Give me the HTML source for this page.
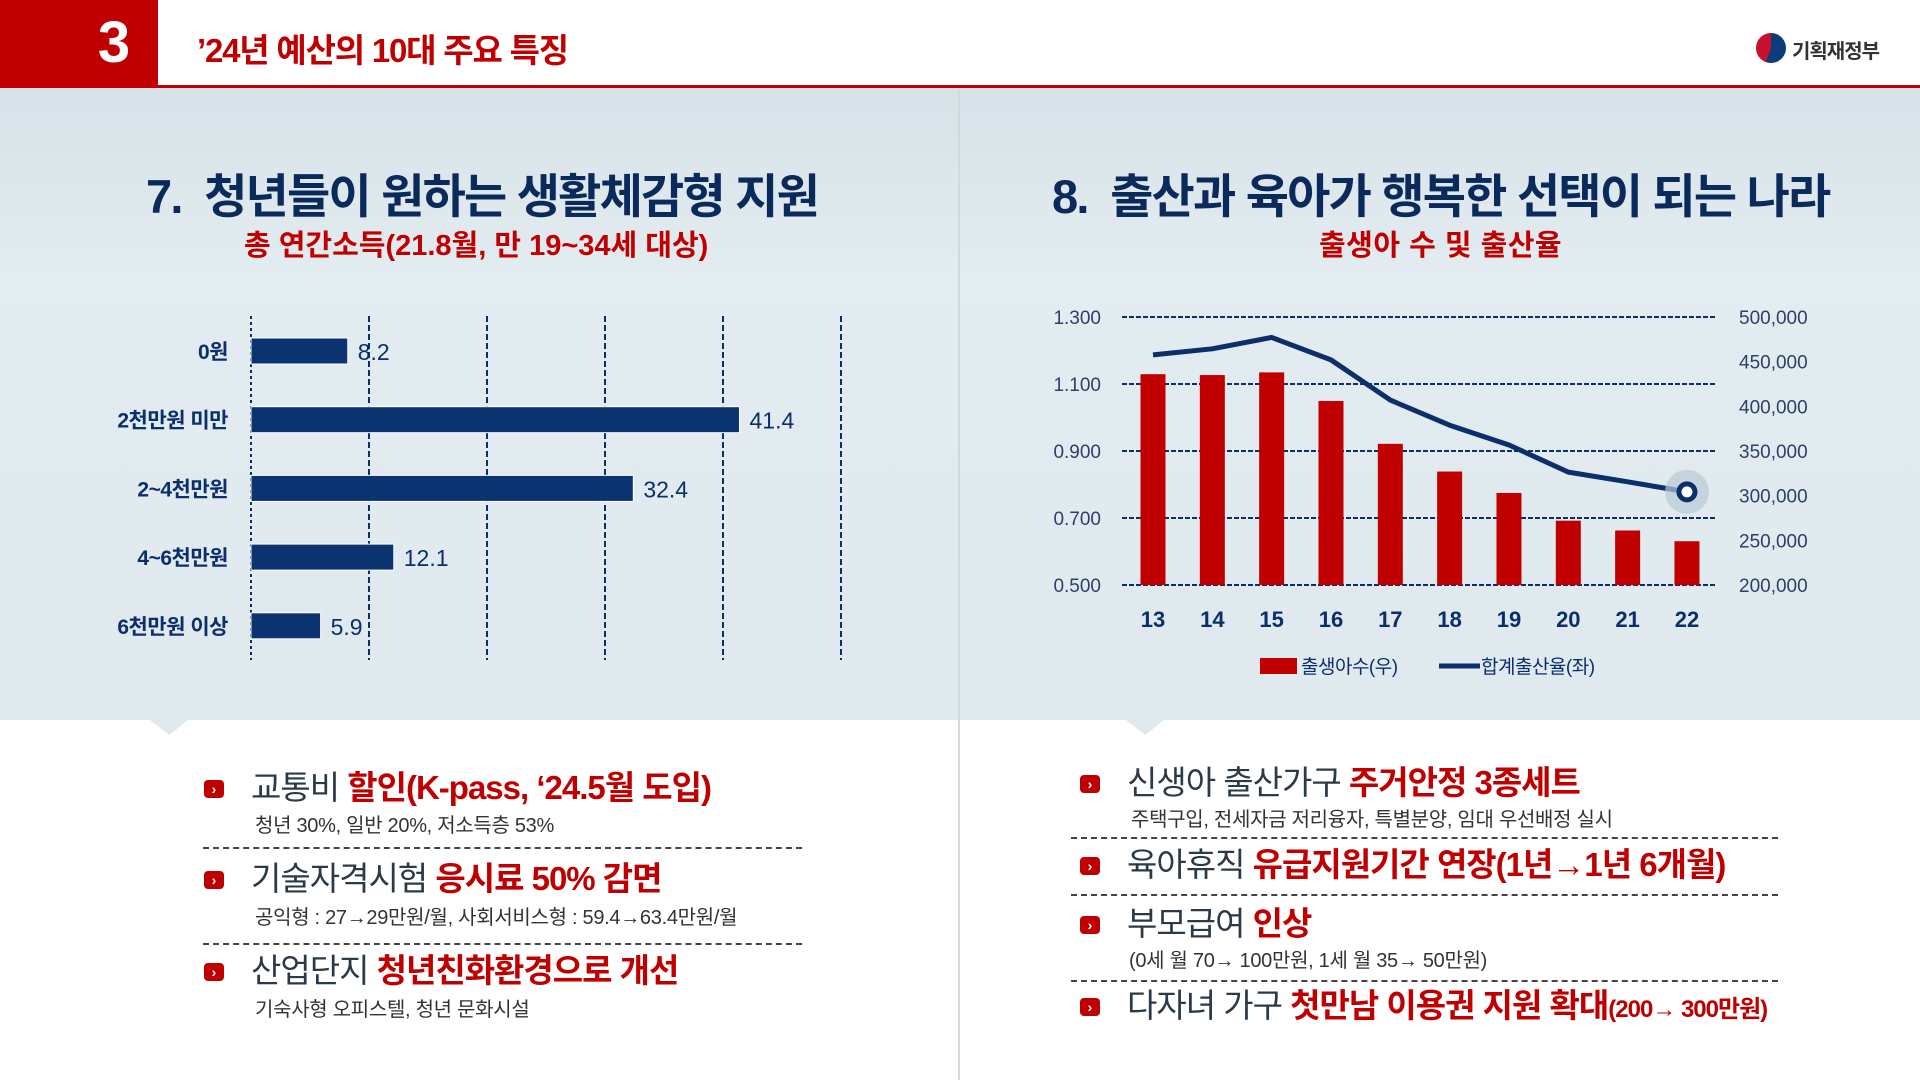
<!DOCTYPE html>
<html><head><meta charset="utf-8">
<style>
html,body{margin:0;padding:0;}
body{width:1920px;height:1080px;position:relative;overflow:hidden;background:#fff;font-family:"Liberation Sans","Noto Sans CJK KR",sans-serif;}
.abs{position:absolute;white-space:nowrap;}
.main{font-size:33px;color:#2b3a48;letter-spacing:-1px;line-height:1;}
.main b{color:#c00000;}
.sub{font-size:20px;color:#333;letter-spacing:-0.3px;line-height:1;}
.bul{width:20px;height:18px;background:#c00000;border-radius:4px;color:#fff;font-size:14px;font-weight:bold;text-align:center;line-height:18px;}
.dl{height:0;border-top:2px dashed #444;}
</style></head><body>
<div class="abs" style="left:0;top:87px;width:1920px;height:633px;background:linear-gradient(180deg,#d6e2e8 0%,#e3ecf0 30%,#dfe9ee 100%);"></div>
<div class="abs" style="left:958px;top:87px;width:2px;height:993px;background:#cfd9de;"></div>
<div class="abs" style="left:150px;top:720px;width:0;height:0;border-left:19px solid transparent;border-right:19px solid transparent;border-top:15px solid #dfe9ee;"></div>
<div class="abs" style="left:1126px;top:720px;width:0;height:0;border-left:19px solid transparent;border-right:19px solid transparent;border-top:15px solid #dfe9ee;"></div>

<div class="abs" style="left:0;top:0;width:158px;height:86px;background:#c00000;"></div>
<div class="abs" style="left:84px;top:0;width:60px;height:86px;color:#fff;font-size:58px;font-weight:bold;text-align:center;line-height:86px;">3</div>
<div class="abs" style="left:197px;top:24px;font-size:33px;font-weight:bold;color:#c00000;letter-spacing:-1.2px;">’24년 예산의 10대 주요 특징</div>
<div class="abs" style="left:0;top:85px;width:1920px;height:3px;background:#c00000;"></div>
<div class="abs" style="left:1756px;top:33px;width:30px;height:30px;border-radius:50%;background:conic-gradient(#0b3c7c 0deg 200deg,#c8102e 200deg 360deg);"></div>
<div class="abs" style="left:1792px;top:35px;font-size:20px;font-weight:bold;color:#333;letter-spacing:-1px;">기획재정부</div>

<div class="abs" style="left:146px;top:158px;font-size:47px;font-weight:bold;color:#0b2a5c;letter-spacing:-1.8px;">7.&nbsp;&nbsp;청년들이 원하는 생활체감형 지원</div>
<div class="abs" style="left:244px;top:222px;font-size:29px;font-weight:bold;color:#c00000;letter-spacing:0px;">총 연간소득(21.8월, 만 19~34세 대상)</div>
<div class="abs" style="left:1052px;top:158px;font-size:47px;font-weight:bold;color:#0b2a5c;letter-spacing:-1.8px;">8.&nbsp;&nbsp;출산과 육아가 행복한 선택이 되는 나라</div>
<div class="abs" style="left:1319px;top:222px;font-size:29px;font-weight:bold;color:#c00000;letter-spacing:0.5px;">출생아 수 및 출산율</div>

<svg class="abs" id="charts" style="left:0;top:0" width="1920" height="1080"></svg>

<div class="abs bul" style="left:204px;top:780px;">›</div>
<div class="abs main" style="left:251px;top:771px;">교통비 <b>할인(K-pass, ‘24.5월 도입)</b></div>
<div class="abs sub" style="left:255px;top:816px;">청년 30%, 일반 20%, 저소득층 53%</div>
<div class="abs dl" style="left:203px;top:847px;width:599px;"></div>
<div class="abs bul" style="left:204px;top:871px;">›</div>
<div class="abs main" style="left:251px;top:862px;">기술자격시험 <b>응시료 50% 감면</b></div>
<div class="abs sub" style="left:255px;top:908px;">공익형 : 27→29만원/월, 사회서비스형 : 59.4→63.4만원/월</div>
<div class="abs dl" style="left:203px;top:943px;width:599px;"></div>
<div class="abs bul" style="left:204px;top:963px;">›</div>
<div class="abs main" style="left:251px;top:954px;">산업단지 <b>청년친화환경으로 개선</b></div>
<div class="abs sub" style="left:255px;top:1000px;">기숙사형 오피스텔, 청년 문화시설</div>

<div class="abs bul" style="left:1080px;top:775px;">›</div>
<div class="abs main" style="left:1127px;top:766px;">신생아 출산가구 <b>주거안정 3종세트</b></div>
<div class="abs sub" style="left:1131px;top:810px;">주택구입, 전세자금 저리융자, 특별분양, 임대 우선배정 실시</div>
<div class="abs dl" style="left:1071px;top:837px;width:707px;"></div>
<div class="abs bul" style="left:1080px;top:857px;">›</div>
<div class="abs main" style="left:1127px;top:848px;">육아휴직 <b>유급지원기간 연장(1년→1년 6개월)</b></div>
<div class="abs dl" style="left:1071px;top:894px;width:707px;"></div>
<div class="abs bul" style="left:1080px;top:916px;">›</div>
<div class="abs main" style="left:1127px;top:907px;">부모급여 <b>인상</b></div>
<div class="abs sub" style="left:1129px;top:951px;">(0세 월 70→ 100만원, 1세 월 35→ 50만원)</div>
<div class="abs dl" style="left:1071px;top:980px;width:707px;"></div>
<div class="abs bul" style="left:1080px;top:998px;">›</div>
<div class="abs main" style="left:1127px;top:989px;">다자녀 가구 <b>첫만남 이용권 지원 확대<span style="font-size:24px;">(200→ 300만원)</span></b></div>

<script>
const incomeCats = ["0원","2천만원 미만","2~4천만원","4~6천만원","6천만원 이상"];
const incomeVals = [8.2,41.4,32.4,12.1,5.9];
const years = ["13","14","15","16","17","18","19","20","21","22"];
const births = [436000,435000,438000,406000,358000,327000,303000,272000,261000,249000];
const tfr = [1.187,1.205,1.239,1.172,1.052,0.977,0.918,0.837,0.808,0.778];
const leftTicks = ["1.300","1.100","0.900","0.700","0.500"];
const rightTicks = ["500,000","450,000","400,000","350,000","300,000","250,000","200,000"];

const NS="http://www.w3.org/2000/svg";
const svg=document.getElementById('charts');
function mk(tag,attrs,parent){const e=document.createElementNS(NS,tag);for(const k in attrs)e.setAttribute(k,attrs[k]);(parent||svg).appendChild(e);return e;}
const F='"Liberation Sans","Noto Sans CJK KR",sans-serif';
const NAVY='#0b2f6b', RED='#c00000';

const bx=v=>251+v*11.8;
const by=i=>351+i*68.7;
for(let g=0;g<=50;g+=10){
  const l=mk('line',{x1:bx(g),x2:bx(g),y1:316,y2:660,stroke:NAVY,'stroke-width':2,'stroke-dasharray':g===0?'3,3':'6,3'});
  
  
}
incomeCats.forEach((c,i)=>{
  const r=mk('rect',{x:bx(0),y:by(i)-13,width:bx(incomeVals[i])-bx(0),height:26,fill:'#0a3370',stroke:'#fff','stroke-width':1});
  
  
  const t=mk('text',{x:228,y:by(i)+8,'text-anchor':'end','font-size':21,'font-weight':'bold',fill:NAVY,'font-family':F,'letter-spacing':'-0.5'});
  t.textContent=c;
  
  
  const v=mk('text',{x:bx(incomeVals[i])+10,y:by(i)+9,'font-size':23,fill:NAVY,'font-family':F});
  v.textContent=incomeVals[i].toFixed(1);
  
  
});

const cx=i=>1153+i*59.33;
const yL=v=>317+(1.3-v)/0.8*268;
const yR=v=>317+(500000-v)/300000*268;
leftTicks.forEach(s=>{
  const v=parseFloat(s);
  const l=mk('line',{x1:1122,x2:1717,y1:yL(v),y2:yL(v),stroke:NAVY,'stroke-width':2,'stroke-dasharray':'5,2'});
  
  
  const t=mk('text',{x:1101,y:yL(v)+7,'text-anchor':'end','font-size':19,fill:'#2d3f6a','font-family':F});
  t.textContent=s;
  
  
});
rightTicks.forEach(s=>{
  const v=parseInt(s.replace(/,/g,''));
  const t=mk('text',{x:1739,y:yR(v)+7,'font-size':19,fill:'#2d3f6a','font-family':F});
  t.textContent=s;
  
  
});
years.forEach((y,i)=>{
  const r=mk('rect',{x:cx(i)-12.5,y:yR(births[i]),width:25,height:yR(200000)-yR(births[i]),fill:RED});
  
  
  const t=mk('text',{x:cx(i),y:627,'text-anchor':'middle','font-size':22,'font-weight':'bold',fill:NAVY,'font-family':F});
  t.textContent=y;
  
  
});
const pl=mk('polyline',{points:tfr.map((v,i)=>cx(i)+','+yL(v)).join(' '),fill:'none',stroke:NAVY,'stroke-width':5,'stroke-linejoin':'round'});


const last=tfr.length-1;
const halo=mk('circle',{cx:cx(last),cy:yL(tfr[last]),r:22,fill:'#b9c9d6',opacity:0.7});


const mkr=mk('circle',{cx:cx(last),cy:yL(tfr[last]),r:8,fill:'#fff',stroke:NAVY,'stroke-width':5});



const lr=mk('rect',{x:1260,y:658,width:37,height:16,fill:RED});


const lt1=mk('text',{x:1301,y:673,'font-size':19,fill:NAVY,'font-family':F,'letter-spacing':'-0.5'});
lt1.textContent='출생아수(우)';


const ll=mk('line',{x1:1439,x2:1480,y1:666,y2:666,stroke:NAVY,'stroke-width':5});


const lt2=mk('text',{x:1481,y:673,'font-size':19,fill:NAVY,'font-family':F,'letter-spacing':'-0.5'});
lt2.textContent='합계출산율(좌)';


</script>
</body></html>
